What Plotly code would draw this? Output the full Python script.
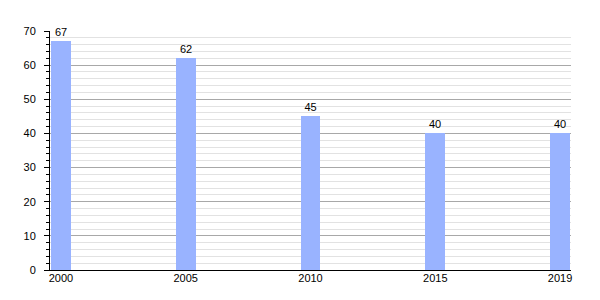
import plotly.graph_objects as go

years = ["2000", "2005", "2010", "2015", "2019"]
values = [67, 62, 45, 40, 40]

x_pos = list(range(len(years)))

fig = go.Figure()
fig.add_trace(go.Bar(
    x=x_pos, y=values, width=0.16,
    marker=dict(color="#99b3ff", line=dict(width=0)),
    text=[str(v) for v in values], textposition="outside",
    textfont=dict(family="Liberation Sans, Arial, sans-serif", size=11, color="#000"),
    cliponaxis=False,
))

fig.update_layout(
    width=600, height=300,
    margin=dict(l=50, r=29, t=31, b=30),
    paper_bgcolor="white", plot_bgcolor="white",
    font=dict(family="Liberation Sans, Arial, sans-serif", size=11, color="#000"),
    showlegend=False,
    bargap=0,
)
fig.update_xaxes(
    range=[-0.088, 4.088],
    tickvals=x_pos, ticktext=years,
    showgrid=False, zeroline=False,
    showline=True, linecolor="#000", linewidth=1,
    ticks="", ticklen=0,
    ticklabelstandoff=-2,
    tickfont=dict(size=11),
)
fig.update_yaxes(
    range=[0, 70],
    tickvals=[0, 10, 20, 30, 40, 50, 60, 70],
    showgrid=True, gridcolor="#a8a8a8", gridwidth=1,
    zeroline=False,
    showline=True, linecolor="#000", linewidth=1,
    ticks="outside", ticklen=5, tickcolor="#000", tickwidth=1,
    ticklabelstandoff=6,
    tickfont=dict(size=11),
    minor=dict(dtick=2, showgrid=True, gridcolor="#e2e2e2", gridwidth=1,
               ticks="outside", ticklen=3, tickcolor="#000", tickwidth=1),
)

fig.write_html("out.html")
